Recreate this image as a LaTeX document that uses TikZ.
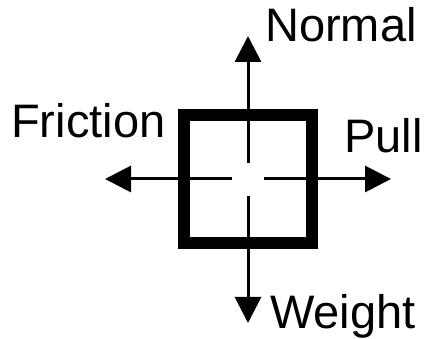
\documentclass[tikz,border=0pt]{standalone}
\usepackage{fontspec}
\setmainfont{Liberation Sans}
\usetikzlibrary{arrows.meta}

\tikzset{
  force/.style={-{Triangle[length=26pt,width=26pt]},line width=3pt},
  forcelabel/.style={anchor=base west,inner sep=0pt,font=\fontsize{47}{56}\selectfont}
}

\begin{document}
\begin{tikzpicture}[x=1pt,y=-1pt]

\useasboundingbox (0,0) rectangle (426,339);

% Block
\node[draw,line width=12pt,minimum size=128pt,inner sep=0pt] (block) at (248,179) {};

% Ends of the forces
\coordinate (n0) at (248,163);
\coordinate (n1) at (248,36);
\coordinate (w0) at (248,196);
\coordinate (w1) at (248,323);
\coordinate (f0) at (232,179);
\coordinate (f1) at (105,179);
\coordinate (p0) at (264,179);
\coordinate (p1) at (391,179);

% Forces
\draw[force] (n0) -- (n1);
\draw[force] (w0) -- (w1);
\draw[force] (f0) -- (f1);
\draw[force] (p0) -- (p1);

% Labels
\node[forcelabel] (normal) at (265,42) {Normal};
\node[forcelabel] (weight) at (270,328) {Weight};
\node[forcelabel] (friction) at (11,138) {Friction};
\node[forcelabel] (pull) at (344,153) {Pull};

\end{tikzpicture}
\end{document}
